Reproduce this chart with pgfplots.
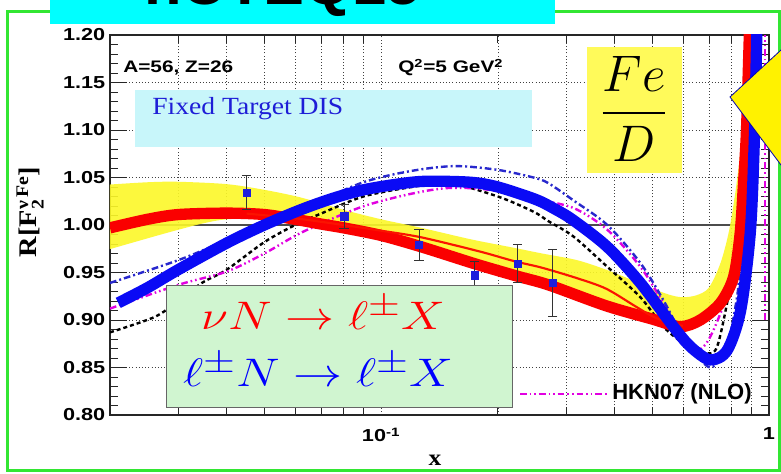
\documentclass[border=0pt]{standalone}
\usepackage{amsmath}
\usepackage{graphicx}
\usepackage{fontspec}
\usepackage{pgfplots}
\pgfplotsset{compat=1.18}

\setmainfont{Liberation Serif}
\newfontfamily\helv{Liberation Sans}
\newfontfamily\helvw[FakeStretch=1.25]{Liberation Sans}
\newfontfamily\timesw[FakeStretch=1.12]{Liberation Serif}

\definecolor{rootred}{RGB}{250,0,0}
\definecolor{rootblue}{RGB}{10,10,245}
\definecolor{bandyellow}{RGB}{252,248,40}
\definecolor{hknmag}{RGB}{225,0,225}
\definecolor{dashblue}{RGB}{40,40,205}
\definecolor{framegreen}{RGB}{50,230,50}
\definecolor{titlecyan}{RGB}{0,255,255}
\definecolor{boxcyan}{RGB}{200,246,250}
\definecolor{boxgreen}{RGB}{208,245,208}
\definecolor{boxyellow}{RGB}{255,250,90}
\definecolor{labelblue}{RGB}{30,30,215}
\definecolor{ptblue}{RGB}{30,30,220}

\begin{document}
\begin{tikzpicture}
\useasboundingbox (0,0) rectangle (585.75pt,355.5pt);
\fill[white] (0,0) rectangle (585.75pt,355.5pt);

% frame and slide title (1 unit = 1 px)
\begin{scope}[x=0.75pt,y=0.75pt]
  \draw[framegreen, line width=2.25pt] (7,462) rectangle (779,3);
  \fill[titlecyan] (50,474) rectangle (555,450);
  \begin{scope}
    \clip (0,0) rectangle (781,474);
    \node[anchor=base west, inner sep=0, font=\helv\bfseries\fontsize{46}{46}\selectfont]
      at (144,469) {nCTEQ15{\color{red}\raisebox{3pt}{ν}}};
  \end{scope}
\end{scope}

\begin{axis}[
  at={(82.5pt,44.25pt)}, anchor=south west,
  scale only axis, width=494.25pt, height=285pt,
  xmode=log, log basis x=10,
  xmin=0.02, xmax=1, ymin=0.8, ymax=1.2,
  xtick={0.1,1}, xticklabels={10\textsuperscript{-1},1},
  minor xtick={0.03,0.04,0.05,0.06,0.07,0.08,0.09,0.2,0.3,0.4,0.5,0.6,0.7,0.8,0.9},
  ytick={0.8,0.85,0.9,0.95,1.0,1.05,1.1,1.15,1.2},
  yticklabels={0.80,0.85,0.90,0.95,1.00,1.05,1.10,1.15,1.20},
  minor y tick num=4,
  tick pos=both, tick align=inside,
  major tick length=12.75pt, minor tick length=6pt,
  major x tick style={draw=none},
  xmajorgrids, xminorgrids, ymajorgrids,
  grid style={black!75, line width=0.55pt, dash pattern=on 0.8pt off 1.6pt},
  axis line style={black!85, line width=0.9pt},
  tick style={black!85, line width=0.6pt},
  ticklabel style={font=\helvw\bfseries\fontsize{13}{13}\selectfont},
  xticklabel style={yshift=-6pt},
]

% unit ratio
\addplot[black!70, line width=1.3pt] coordinates {(0.02,1) (1,1)};

% nCTEQ uncertainty band: upper edge left to right, then lower edge back
\addplot[fill=bandyellow, draw=none, fill opacity=0.9, smooth] coordinates {
  (0.019,1.042) (0.025,1.045) (0.03,1.0455) (0.04,1.043) (0.05,1.037) (0.062,1.029)
  (0.08,1.016) (0.1,1.006) (0.127,0.997) (0.17,0.985) (0.22,0.976) (0.26,0.970)
  (0.32,0.963) (0.38,0.953) (0.45,0.941) (0.5,0.933) (0.56,0.926) (0.6,0.924)
  (0.65,0.926) (0.7,0.934) (0.75,0.96) (0.79,0.995) (0.825,1.044) (0.853,1.1)
  (0.875,1.2) (0.885,1.26) (0.89,1.27)
  (0.9,1.26) (0.89,1.2) (0.875,1.1) (0.86,1.045) (0.842,0.99) (0.81,0.945)
  (0.75,0.918) (0.665,0.9) (0.59,0.893) (0.5,0.901) (0.38,0.915) (0.27,0.937)
  (0.225,0.946) (0.175,0.959) (0.127,0.977) (0.1,0.987) (0.08,0.995) (0.06,1.003)
  (0.05,1.007) (0.04,1.006) (0.035,1.002) (0.03,0.995) (0.025,0.986) (0.019,0.972)} -- cycle;

% other fits
\addplot[black, line width=1.8pt, dash pattern=on 3pt off 2.25pt, smooth] coordinates {
  (0.02,0.887) (0.026,0.903) (0.03,0.92) (0.0345,0.939) (0.04,0.953) (0.05,0.982)
  (0.06,1.0) (0.07,1.012) (0.09,1.03) (0.12,1.04) (0.15,1.044) (0.2,1.03)
  (0.247,1.014) (0.27,1.004) (0.313,0.988) (0.383,0.956) (0.466,0.924) (0.534,0.893)
  (0.601,0.876) (0.693,0.865) (0.735,0.872) (0.78,0.918) (0.808,0.956) (0.842,1.026)
  (0.87,1.15) (0.885,1.26)};
\addplot[hknmag, line width=1.8pt, dash pattern=on 5pt off 2.25pt on 1.2pt off 2.25pt on 1.2pt off 2.25pt, smooth] coordinates {
  (0.02,0.912) (0.03,0.937) (0.04,0.951) (0.05,0.97) (0.063,0.993) (0.089,1.019)
  (0.12,1.033) (0.15,1.039) (0.19,1.037) (0.25,1.027) (0.313,1.018) (0.383,0.995)
  (0.466,0.956) (0.534,0.918) (0.601,0.882) (0.653,0.868) (0.705,0.882) (0.78,0.928)
  (0.827,0.99) (0.868,1.12) (0.89,1.26)};
\addplot[hknmag, line width=1.5pt, dash pattern=on 5pt off 2.25pt on 1.2pt off 2.25pt on 1.2pt off 2.25pt] coordinates {
  (0.975,0.9) (0.975,1.2)};
\addplot[dashblue, line width=1.8pt, dash pattern=on 5pt off 2.25pt on 1.5pt off 2.25pt, smooth] coordinates {
  (0.02,0.939) (0.03,0.963) (0.04,0.984) (0.05,1.0) (0.065,1.02) (0.09,1.045)
  (0.12,1.057) (0.155,1.062) (0.2,1.058) (0.247,1.05) (0.27,1.044) (0.313,1.026)
  (0.383,1.0) (0.466,0.96) (0.534,0.921) (0.601,0.882) (0.677,0.855) (0.718,0.851)
  (0.78,0.872) (0.827,0.924) (0.842,0.96) (0.865,1.05) (0.885,1.15) (0.9,1.26)};

% neutrino fit
\addplot[rootred, line width=8.5pt, smooth] coordinates {
  (0.02,0.997) (0.025,1.006) (0.03,1.011) (0.04,1.0125) (0.05,1.011) (0.06,1.006)
  (0.07,1.001) (0.08,0.997) (0.1,0.989) (0.127,0.977) (0.175,0.959) (0.225,0.946)
  (0.27,0.937) (0.38,0.915) (0.5,0.901) (0.59,0.893) (0.665,0.9) (0.75,0.918)
  (0.81,0.945) (0.842,0.99) (0.86,1.045) (0.875,1.1) (0.89,1.2) (0.9,1.26)};
\addplot[rootred!85!orange, line width=1.6pt, smooth] coordinates {
  (0.045,1.012) (0.06,1.007) (0.08,1.0) (0.1,0.994) (0.127,0.987) (0.18,0.972)
  (0.22,0.962) (0.26,0.955) (0.32,0.944) (0.38,0.933) (0.45,0.915) (0.5,0.904)
  (0.56,0.896) (0.6,0.894)};

% charged-lepton fit
\addplot[rootblue, line width=8.5pt, smooth] coordinates {
  (0.021,0.918) (0.025,0.934) (0.03,0.953) (0.04,0.981) (0.05,1.0) (0.062,1.016)
  (0.075,1.028) (0.09,1.037) (0.11,1.043) (0.13,1.046) (0.17,1.045) (0.2,1.04)
  (0.25,1.027) (0.28,1.017) (0.313,1.005) (0.383,0.977) (0.466,0.939) (0.567,0.893)
  (0.627,0.872) (0.705,0.858) (0.78,0.868) (0.845,0.91) (0.894,0.99) (0.915,1.08)
  (0.93,1.2) (0.935,1.26)};

% data
\addplot[only marks, mark=square*, mark size=2.8pt, mark options={ptblue},
  error bars/.cd, y dir=both, y explicit,
  error bar style={black!80, line width=0.7pt},
  error mark options={rotate=90, mark size=3.5pt, black!80, line width=0.7pt}]
  coordinates {
  (0.045,1.034) +- (0,0.018)
  (0.0803,1.009) +- (0,0.013)
  (0.1252,0.979) +- (0,0.016)
  (0.1744,0.947) +- (0,0.015)
  (0.225,0.959) +- (0,0.02)
  (0.277,0.939) +- (0,0.035)};
\end{axis}

% annotations (1 unit = 1 px)
\begin{scope}[x=0.75pt,y=0.75pt]
  \node[rotate=90, font=\timesw\bfseries\fontsize{19}{19}\selectfont] at (30,262)
    {R[F$^{\text{\bfseries ν\,Fe}}_{\text{\bfseries 2}}$]};
  \node[font=\timesw\bfseries\fontsize{17}{17}\selectfont] at (435,14) {x};

  \node[anchor=base west, inner sep=0, font=\helvw\bfseries\fontsize{12.5}{12.5}\selectfont]
    at (123,401) {A=56, Z=26};
  \node[anchor=base west, inner sep=0, font=\helvw\bfseries\fontsize{12.5}{12.5}\selectfont]
    at (398,401) {Q\textsuperscript{2}=5 GeV\textsuperscript{2}};

  \fill[boxcyan] (135,384) rectangle (532,327);
  \node[anchor=base west, inner sep=0, text=labelblue, font=\timesw\fontsize{18.5}{18.5}\selectfont]
    at (152,359) {Fixed Target DIS};

  \fill[boxyellow] (587,427) rectangle (682,301);
  \node[font=\fontsize{24.88}{24.88}\selectfont] at (634,365)
    {\scalebox{1.55}{$\displaystyle\frac{Fe}{D}$}};

  \filldraw[fill=boxgreen, draw=black!60, line width=0.6pt] (166,189) rectangle (512,67);
  \node[text=red, font=\fontsize{24.88}{24.88}\selectfont] at (323,161)
    {\scalebox{1.48}[1.2]{$\nu N \to \ell^{\pm} X$}};
  \node[text=blue, font=\fontsize{24.88}{24.88}\selectfont] at (318,104)
    {\scalebox{1.48}[1.2]{$\ell^{\pm} N \to \ell^{\pm} X$}};

  \draw[hknmag, line width=1.5pt, dash pattern=on 5pt off 2.25pt on 1.2pt off 2.25pt on 1.2pt off 2.25pt]
    (520,80) -- (607,80);
  \node[anchor=west, inner sep=0, font=\helv\bfseries\fontsize{16.5}{16.5}\selectfont]
    at (612,80) {HKN07 (NLO)};

  \begin{scope}
    \clip (0,0) rectangle (781,474);
    \filldraw[fill=yellow, draw=blue!70!black, line width=0.6pt]
      (800,441.5) -- (730,377) -- (800,283.7);
  \end{scope}
\end{scope}
\end{tikzpicture}
\end{document}
